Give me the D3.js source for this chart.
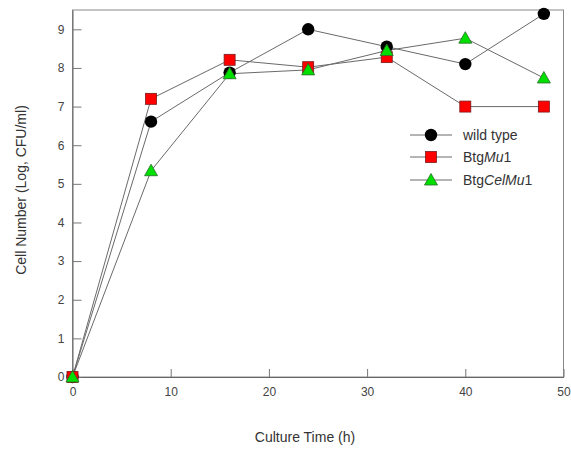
<!DOCTYPE html>
<html>
  <head>
    <meta charset="utf-8">
    <script type="text/javascript" src="https://cdn.jsdelivr.net/npm/d3@7"></script>
    <style>
      body { margin: 0; background: #fff; }
      text { font-family: "Liberation Sans", Arial, sans-serif; fill: #333; }
    </style>
  </head>
  <body>
    <script type="text/javascript">
      // Data
      var hours = [0, 8, 16, 24, 32, 40, 48];
      var wildType = [0, 6.61, 7.88, 9.0, 8.55, 8.1, 9.4];
      var btgMu1 = [0, 7.2, 8.21, 8.02, 8.28, 7.0, 7.0];
      var btgCelMu1 = [0, 5.34, 7.85, 7.95, 8.45, 8.77, 7.74];
      var xTicks = [0, 10, 20, 30, 40, 50];
      var yTicks = [0, 1, 2, 3, 4, 5, 6, 7, 8, 9];

      var width = 571;
      var height = 452;
      var svg = d3.select("body")
                  .append("svg")
                  .attr("width", width)
                  .attr("height", height);

      // Plot area
      var plotLeft = 72.5, plotRight = 563.5, plotTop = 10, plotBottom = 377;

      var x = d3.scaleLinear().domain([0, 50]).range([plotLeft, plotRight]);
      var y = d3.scaleLinear().domain([0, 9.5]).range([plotBottom, plotTop]);

      // Frame
      svg.append("rect")
         .attr("x", plotLeft)
         .attr("y", plotTop)
         .attr("width", plotRight - plotLeft)
         .attr("height", plotBottom - plotTop)
         .attr("fill", "none")
         .attr("stroke", "#8a8a8a")
         .attr("stroke-width", 1);

      // Axes with inward ticks
      var xAxis = d3.axisTop(x).tickValues(xTicks).tickSize(8).tickSizeOuter(0).tickFormat(d3.format("d"));
      var gx = svg.append("g")
                  .attr("transform", "translate(0," + plotBottom + ")")
                  .call(xAxis);
      gx.select(".domain").attr("stroke", "#666");
      gx.selectAll(".tick line").attr("stroke", "#777");
      gx.selectAll(".tick text")
        .attr("y", 19)
        .attr("dy", "0")
        .style("font-size", "12px")
        .style("fill", "#444")
        .style("font-family", "'Liberation Sans', Arial, sans-serif");

      var yAxis = d3.axisRight(y).tickValues(yTicks).tickSize(9).tickSizeOuter(0).tickFormat(d3.format("d"));
      var gy = svg.append("g")
                  .attr("transform", "translate(" + plotLeft + ",0)")
                  .call(yAxis);
      gy.select(".domain").attr("stroke", "#666");
      gy.selectAll(".tick line").attr("stroke", "#777");
      gy.selectAll(".tick text")
        .attr("x", -8)
        .attr("text-anchor", "end")
        .style("font-size", "12px")
        .style("fill", "#444")
        .style("font-family", "'Liberation Sans', Arial, sans-serif");

      // Axis titles
      svg.append("text")
         .attr("x", 305)
         .attr("y", 442)
         .attr("text-anchor", "middle")
         .style("font-size", "14px")
         .text("Culture Time (h)");

      svg.append("text")
         .attr("transform", "translate(26,190) rotate(-90)")
         .attr("text-anchor", "middle")
         .style("font-size", "14px")
         .text("Cell Number (Log, CFU/ml)");

      // Series
      var series = [
        { name: "wild type", values: wildType, shape: "circle", color: "#000" },
        { name: "BtgMu1", values: btgMu1, shape: "square", color: "#ff0000" },
        { name: "BtgCelMu1", values: btgCelMu1, shape: "triangle", color: "#00e000" }
      ];

      var line = d3.line()
                   .x(function(d, i) { return x(hours[i]); })
                   .y(function(d) { return y(d); });

      series.forEach(function(s) {
        svg.append("path")
           .datum(s.values)
           .attr("d", line)
           .attr("fill", "none")
           .attr("stroke", "#6a6a6a")
           .attr("stroke-width", 1);
      });

      function drawMarker(g, shape, color, cx, cy) {
        if (shape === "circle") {
          g.append("circle")
           .attr("cx", cx).attr("cy", cy).attr("r", 6.2)
           .attr("fill", color);
        } else if (shape === "square") {
          g.append("rect")
           .attr("x", cx - 5.5).attr("y", cy - 5.5)
           .attr("width", 11).attr("height", 11)
           .attr("fill", color)
           .attr("stroke", "#7a1a1a").attr("stroke-width", 0.8);
        } else {
          g.append("path")
           .attr("d", "M" + cx + "," + (cy - 6.5) + "L" + (cx + 6.5) + "," + (cy + 5) +
                      "L" + (cx - 6.5) + "," + (cy + 5) + "Z")
           .attr("fill", color)
           .attr("stroke", "#2a6a2a").attr("stroke-width", 0.8);
        }
      }

      series.forEach(function(s) {
        var g = svg.append("g");
        s.values.forEach(function(v, i) {
          drawMarker(g, s.shape, s.color, x(hours[i]), y(v));
        });
      });

      // Legend
      var legendY = [135, 157, 180];
      series.forEach(function(s, i) {
        var g = svg.append("g");
        g.append("line")
         .attr("x1", 410).attr("x2", 452)
         .attr("y1", legendY[i]).attr("y2", legendY[i])
         .attr("stroke", "#6a6a6a");
        drawMarker(g, s.shape, s.color, 431, legendY[i]);
        var t = g.append("text")
                 .attr("x", 463)
                 .attr("y", legendY[i] + 5)
                 .style("font-size", "14px");
        if (i === 0) {
          t.text("wild type");
        } else if (i === 1) {
          t.append("tspan").text("Btg");
          t.append("tspan").style("font-style", "italic").text("Mu");
          t.append("tspan").text("1");
        } else {
          t.append("tspan").text("Btg");
          t.append("tspan").style("font-style", "italic").text("Cel");
          t.append("tspan").style("font-style", "italic").text("Mu");
          t.append("tspan").text("1");
        }
      });
    </script>
  </body>
</html>
